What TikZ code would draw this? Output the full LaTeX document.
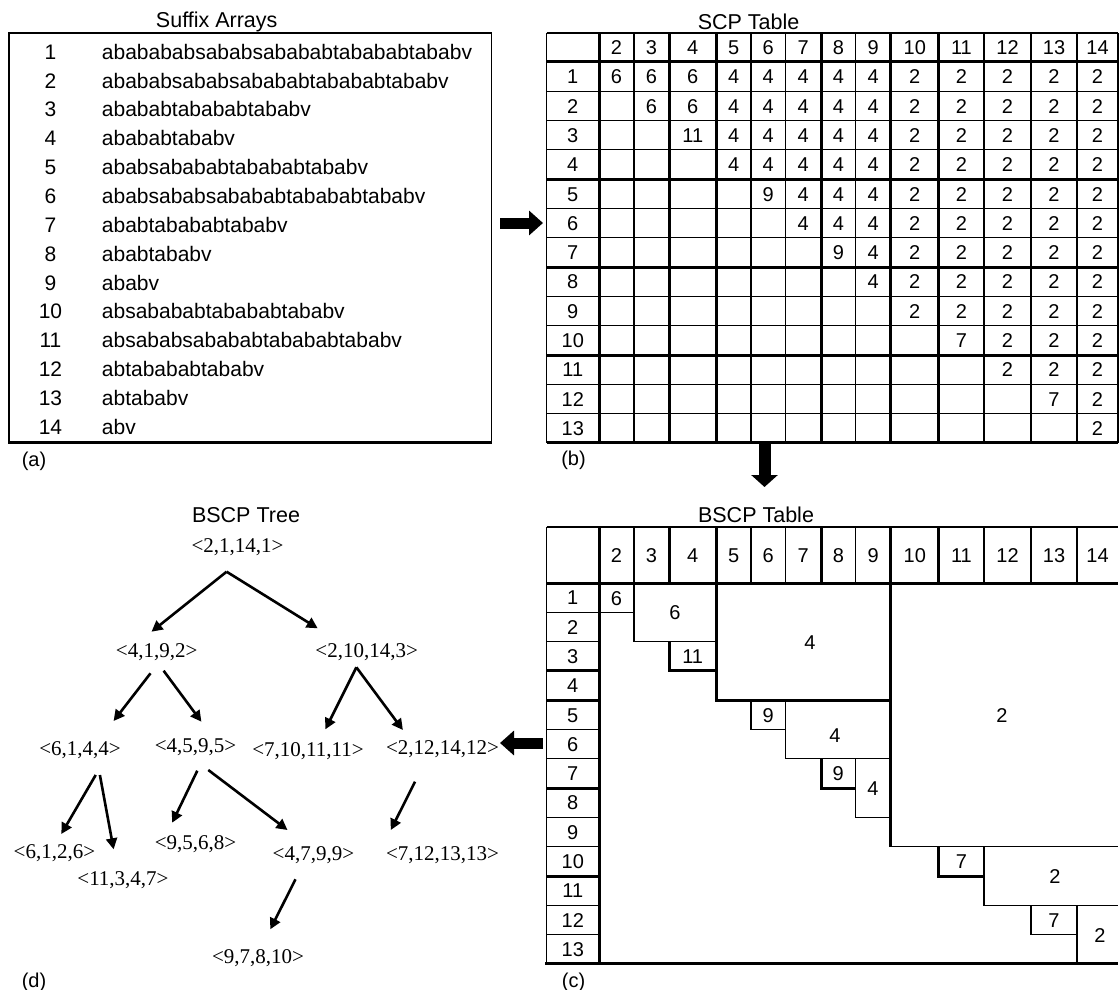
\documentclass[tikz,border=0pt]{standalone}
\usepackage{fontspec}
\setmainfont{Liberation Serif}
\newfontfamily\arial{Liberation Sans}
\usetikzlibrary{arrows.meta,calc}
\begin{document}
\begin{tikzpicture}[x=1pt,y=-1pt,
  tl/.style={line width=1.1pt},
  tk/.style={line width=3pt},
  ttl/.style={font=\arial\fontsize{21.5}{24}\selectfont, inner sep=0pt},
  sanum/.style={font=\arial\fontsize{21}{24}\selectfont, inner sep=0pt, text height=15pt, text depth=0pt},
  sastr/.style={sanum, anchor=west},
  tnum/.style={font=\arial\fontsize{20}{24}\selectfont, inner sep=0pt, text height=14.3pt, text depth=0pt},
  tree/.style={font=\fontsize{21}{24}\selectfont, inner sep=0pt, text height=14.2pt, text depth=0pt},
  tarr/.style={line width=2.6pt, -{Triangle[length=11pt,width=11pt]}},
  blk/.style={line width=11pt, -{Triangle[length=14pt,width=24pt]}}]
\useasboundingbox (0,0) rectangle (1119,990);
\def\CX{{546.6,599,634,669,716.5,751,785.6,821,855.7,890.8,938.8,984,1031,1077,1118}}
\newcommand\colc[1]{%
  \pgfmathtruncatemacro\jm{#1-1}%
  \pgfmathsetmacro\xa{\CX[\jm]}%
  \pgfmathsetmacro\xb{\CX[#1]}%
  \pgfmathsetmacro\xc{(\xa+\xb)/2}}

% ---------------- (a) Suffix arrays
\node[ttl] (ta) at (216.7,21.7) {Suffix Arrays};
\draw[line width=1.8pt] (9.3,33.3) rectangle (491.5,442.3);
\draw[line width=3pt] (8.4,442.3) -- (492.4,442.3);
\foreach \s [count=\i] in {ababababsababsabababtabababtababv,abababsababsabababtabababtababv,abababtabababtababv,abababtababv,ababsabababtabababtababv,ababsababsabababtabababtababv,ababtabababtababv,ababtababv,ababv,absabababtabababtababv,absababsabababtabababtababv,abtabababtababv,abtababv,abv}{
  \pgfmathsetmacro\yy{51.7+28.85*(\i-1)}
  \node[sanum] (san\i) at (50.5,\yy) {\i};
  \node[sastr] (sas\i) at (101.7,\yy) {\s};
}
\node[tnum] (la) at (34,459) {(a)};

% ---------------- (b) SCP table
\node[ttl] (tb) at (748.6,21.7) {SCP Table};
\draw[tl] (546.6,33) -- (1118,33);
\draw[tl] (546.6,33) -- (546.6,442.9);
\draw[tl] (1118,33) -- (1118,442.9);
\foreach \k in {1,...,13}{
  \pgfmathsetmacro\xx{\CX[\k]}
  \pgfmathsetmacro\lw{(\k==1||\k==3||\k==4||\k==7||\k==9||\k==10)?3:1.1}
  \draw[line width=\lw pt] (\xx,33) -- (\xx,442.9);
}
\foreach \r in {0,...,13}{
  \pgfmathsetmacro\yy{62+29.3*\r}
  \pgfmathsetmacro\lw{(\r==0||\r==4||\r==7||\r==10||\r==13)?3:1.1}
  \draw[line width=\lw pt] (546.6,\yy) -- (1118,\yy);
}
\foreach \j in {2,...,14}{
  \colc{\j}
  \node[tnum] (sh\j) at (\xc,47.5) {\j};
}
\foreach \r in {1,...,13}{
  \pgfmathsetmacro\yy{62+29.3*\r-14.65}
  \node[tnum] (sr\r) at (572.8,\yy) {\r};
  \foreach \j in {2,...,14}{
    \ifnum\j>\r
      \pgfmathtruncatemacro\key{\r*100+\j}
      \pgfmathtruncatemacro\v{\key==304 ? 11 : ((\key==506 || \key==708) ? 9 : ((\key==1011 || \key==1213) ? 7 : (\j>9 ? 2 : (\j>4 ? 4 : 6))))}
      \colc{\j}
      \node[tnum] (sv\r-\j) at (\xc,\yy) {\v};
    \fi
  }
}
\node[tnum] (lb) at (573.5,458) {(b)};

% ---------------- (c) BSCP table
\node[ttl] (tc) at (756,515) {BSCP Table};
\draw[tl] (546.6,527) -- (1118,527);
\draw[tl] (546.6,527) -- (546.6,963.9);
\foreach \k in {1,...,13}{
  \pgfmathsetmacro\xx{\CX[\k]}
  \pgfmathsetmacro\lw{(\k==1||\k==3||\k==4||\k==7||\k==9||\k==10)?3:1.1}
  \draw[line width=\lw pt] (\xx,527) -- (\xx,583);
}
\draw[tk] (546.6,583) -- (1118,583);
\draw[tk] (599,583) -- (599,963.9);
\foreach \r in {1,...,12}{
  \pgfmathsetmacro\yy{583+29.3*\r}
  \pgfmathsetmacro\lw{(\r==3||\r==4||\r==7||\r==10)?3:1.1}
  \draw[line width=\lw pt] (546.6,\yy) -- (599,\yy);
}
\draw[tk] (545.1,963.9) -- (1118,963.9);
\foreach \j in {2,...,14}{
  \colc{\j}
  \node[tnum] (ch\j) at (\xc,555) {\j};
}
\foreach \r in {1,...,13}{
  \pgfmathsetmacro\yy{583+29.3*\r-14.65}
  \node[tnum] (cr\r) at (572.8,\yy) {\r};
}
% blocks
\draw[tl] (634,583) -- (634,641.6);
\draw[tl] (599,612.3) -- (634,612.3);
\draw[tl] (634,641.6) -- (716.5,641.6);
\draw[tk] (669,641.6) -- (669,670.9) -- (716.5,670.9);
\draw[tk] (716.5,583) -- (716.5,700.2) -- (890.8,700.2);
\draw[tk] (890.8,583) -- (890.8,846.7);
\draw[tl] (890.8,846.7) -- (1118,846.7);
\draw[tl] (751,700.2) -- (751,729.5) -- (785.6,729.5);
\draw[tl] (785.6,700.2) -- (785.6,758.8) -- (890.8,758.8);
\draw[tk] (821,758.8) -- (821,788.1) -- (855.7,788.1);
\draw[tl] (855.7,758.8) -- (855.7,817.4) -- (890.8,817.4);
\draw[tk] (938.8,846.7) -- (938.8,876) -- (984,876);
\draw[tl] (984,846.7) -- (984,905.3) -- (1118,905.3);
\draw[tl] (1031,905.3) -- (1031,934.6) -- (1077,934.6);
\draw[tl] (1077,905.3) -- (1077,963.9);
\node[tnum] (b1) at (616.5,598) {6};
\node[tnum] (b2) at (675,612) {6};
\node[tnum] (b3) at (692.7,656.5) {11};
\node[tnum] (b4) at (810,642) {4};
\node[tnum] (b5) at (1002,715) {2};
\node[tnum] (b6) at (768.3,715) {9};
\node[tnum] (b7) at (835,735) {4};
\node[tnum] (b8) at (838.3,773.5) {9};
\node[tnum] (b9) at (873,788) {4};
\node[tnum] (b10) at (961.4,861.5) {7};
\node[tnum] (b11) at (1055,876) {2};
\node[tnum] (b12) at (1054,920) {7};
\node[tnum] (b13) at (1100,935) {2};
\node[tnum] (lc) at (573.5,980) {(c)};

% ---------------- (d) BSCP tree
\node[ttl] (td) at (246,515) {BSCP Tree};
\node[tree] (r)   at (237.6,545) {<2,1,14,1>};
\node[tree] (n1)  at (156.7,650) {<4,1,9,2>};
\node[tree] (n2)  at (366.7,650) {<2,10,14,3>};
\node[tree] (n3)  at (80,748)    {<6,1,4,4>};
\node[tree] (n4)  at (195.6,745) {<4,5,9,5>};
\node[tree] (n5)  at (308,749)   {<7,10,11,11>};
\node[tree] (n6)  at (442.5,747) {<2,12,14,12>};
\node[tree] (n7)  at (54.4,851.7) {<6,1,2,6>};
\node[tree] (n8)  at (123,878)   {<11,3,4,7>};
\node[tree] (n9)  at (195.6,842.7) {<9,5,6,8>};
\node[tree] (n10) at (313.4,853) {<4,7,9,9>};
\node[tree] (n11) at (442.5,853) {<7,12,13,13>};
\node[tree] (n12) at (258,956.7) {<9,7,8,10>};
\node[tnum] (ld) at (34,980) {(d)};

\draw[tarr] ($(r)+(-11,26.7)$) -- ($(n1)+(-5.2,-18.3)$);
\draw[tarr] ($(r)+(-11,26.7)$) -- ($(n2)+(-49,-21.7)$);
\draw[tarr] ($(n1)+(-6.2,23.3)$) -- ($(n3)+(33.6,-27)$);
\draw[tarr] ($(n1)+(6.9,20.7)$) -- ($(n4)+(5.8,-23.3)$);
\draw[tarr] ($(n2)+(-10.3,17.3)$) -- ($(n5)+(17.4,-19.7)$);
\draw[tarr] ($(n2)+(-10.3,17.3)$) -- ($(n6)+(-39.6,-17)$);
\draw[tarr] ($(n3)+(15.7,27)$) -- ($(n7)+(6.9,-17.7)$);
\draw[tarr] ($(n3)+(19.9,27)$) -- ($(n8)+(-9.4,-28.7)$);
\draw[tarr] ($(n4)+(1.7,25.7)$) -- ($(n9)+(-23.4,-20)$);
\draw[tarr] ($(n4)+(12.7,25)$) -- ($(n10)+(-25.9,-23)$);
\draw[tarr] ($(n6)+(-27.5,34.7)$) -- ($(n11)+(-51.7,-23)$);
\draw[tarr] ($(n10)+(-17.9,26.3)$) -- ($(n12)+(12.3,-27.4)$);

% ---------------- panel arrows
\coordinate (abS) at (500,223);
\coordinate (abE) at (543,223);
\draw[blk] (abS) -- (abE);
\coordinate (bcS) at (764.5,443);
\coordinate (bcE) at (764.5,487);
\draw[line width=12pt, -{Triangle[length=12pt,width=26pt]}] (bcS) -- (bcE);
\coordinate (cdS) at (543,743);
\coordinate (cdE) at (500,743);
\draw[blk] (cdS) -- (cdE);
\end{tikzpicture}
\end{document}
